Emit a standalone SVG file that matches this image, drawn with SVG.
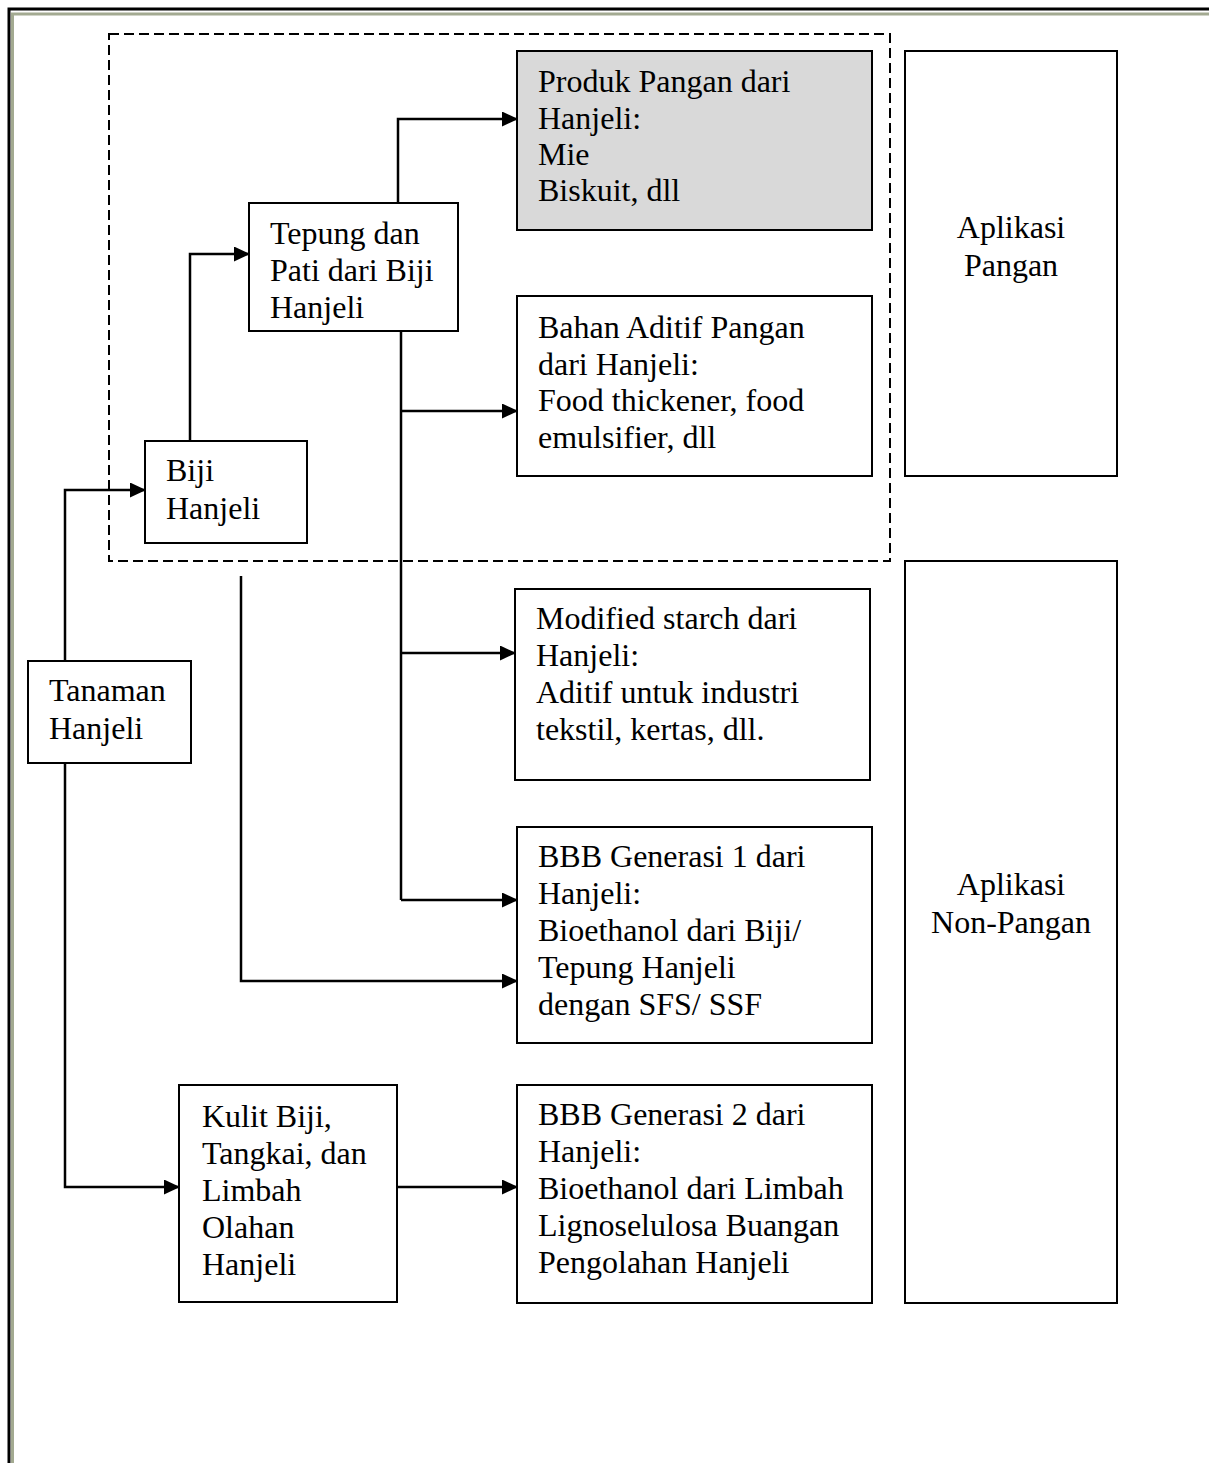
<svg xmlns="http://www.w3.org/2000/svg" width="1209" height="1463" viewBox="0 0 1209 1463">
<defs>
<marker id="ah" viewBox="0 0 16 15" refX="15" refY="7.5" markerWidth="16" markerHeight="15" markerUnits="userSpaceOnUse" orient="auto">
<path d="M0,0 L16,7.5 L0,15 Z" fill="#000"/>
</marker>
<style>
.box{fill:#fff;stroke:#000;stroke-width:2}
.grey{fill:#d9d9d9}
.t{font-family:"Liberation Serif","Times New Roman",serif;font-size:32px;fill:#000}
.c{text-anchor:middle}
.ln{fill:none;stroke:#000;stroke-width:2.5}
.arr{marker-end:url(#ah)}
</style>
</defs>
<rect x="0" y="0" width="1209" height="1463" fill="#fff"/>
<g id="frame">
<path d="M9,1463 V9 H1209" fill="none" stroke="#000" stroke-width="3"/>
<path d="M12.5,1463 V14 H1209" fill="none" stroke="#a3aa91" stroke-width="3"/>
</g>
<g id="group-pangan">
<rect x="109" y="34" width="781" height="527" fill="none" stroke="#000" stroke-width="2" stroke-dasharray="10,5"/>
</g>
<g id="connectors">
<path class="ln arr" d="M65,661 V490 H145"/>
<path class="ln arr" d="M65,763 V1187 H179"/>
<path class="ln arr" d="M190,441 V254 H249"/>
<path class="ln arr" d="M398,203 V119 H517"/>
<path class="ln" d="M401,331 V900"/>
<path class="ln arr" d="M401,411 H517"/>
<path class="ln arr" d="M401,653 H515"/>
<path class="ln arr" d="M401,900 H517"/>
<path class="ln arr" d="M241,576 V981 H517"/>
<path class="ln arr" d="M397,1187 H517"/>
</g>
<g id="node-produk">
<rect class="box grey" x="517" y="51" width="355" height="179"/>
<text class="t" x="538" y="92">Produk Pangan dari</text>
<text class="t" x="538" y="128.5">Hanjeli:</text>
<text class="t" x="538" y="165">Mie</text>
<text class="t" x="538" y="201">Biskuit, dll</text>
</g>
<g id="node-aplikasi-pangan">
<rect class="box" x="905" y="51" width="212" height="425"/>
<text class="t c" x="1011" y="238">Aplikasi</text>
<text class="t c" x="1011" y="276">Pangan</text>
</g>
<g id="node-tepung">
<rect class="box" x="249" y="203" width="209" height="128"/>
<text class="t" x="270" y="244">Tepung dan</text>
<text class="t" x="270" y="281">Pati dari Biji</text>
<text class="t" x="270" y="318">Hanjeli</text>
</g>
<g id="node-aditif">
<rect class="box" x="517" y="296" width="355" height="180"/>
<text class="t" x="538" y="338">Bahan Aditif Pangan</text>
<text class="t" x="538" y="375">dari Hanjeli:</text>
<text class="t" x="538" y="411">Food thickener, food</text>
<text class="t" x="538" y="448">emulsifier, dll</text>
</g>
<g id="node-biji">
<rect class="box" x="145" y="441" width="162" height="102"/>
<text class="t" x="166" y="481">Biji</text>
<text class="t" x="166" y="519">Hanjeli</text>
</g>
<g id="node-tanaman">
<rect class="box" x="28" y="661" width="163" height="102"/>
<text class="t" x="49" y="701">Tanaman</text>
<text class="t" x="49" y="739">Hanjeli</text>
</g>
<g id="node-modified">
<rect class="box" x="515" y="589" width="355" height="191"/>
<text class="t" x="536" y="629">Modified starch dari</text>
<text class="t" x="536" y="666">Hanjeli:</text>
<text class="t" x="536" y="703">Aditif untuk industri</text>
<text class="t" x="536" y="740">tekstil, kertas, dll.</text>
</g>
<g id="node-aplikasi-nonpangan">
<rect class="box" x="905" y="561" width="212" height="742"/>
<text class="t c" x="1011" y="895">Aplikasi</text>
<text class="t c" x="1011" y="933">Non-Pangan</text>
</g>
<g id="node-bbb1">
<rect class="box" x="517" y="827" width="355" height="216"/>
<text class="t" x="538" y="867">BBB Generasi 1 dari</text>
<text class="t" x="538" y="904">Hanjeli:</text>
<text class="t" x="538" y="941">Bioethanol dari Biji/</text>
<text class="t" x="538" y="978">Tepung Hanjeli</text>
<text class="t" x="538" y="1015">dengan SFS/ SSF</text>
</g>
<g id="node-kulit">
<rect class="box" x="179" y="1085" width="218" height="217"/>
<text class="t" x="202" y="1127">Kulit Biji,</text>
<text class="t" x="202" y="1164">Tangkai, dan</text>
<text class="t" x="202" y="1201">Limbah</text>
<text class="t" x="202" y="1238">Olahan</text>
<text class="t" x="202" y="1275">Hanjeli</text>
</g>
<g id="node-bbb2">
<rect class="box" x="517" y="1085" width="355" height="218"/>
<text class="t" x="538" y="1125">BBB Generasi 2 dari</text>
<text class="t" x="538" y="1162">Hanjeli:</text>
<text class="t" x="538" y="1199">Bioethanol dari Limbah</text>
<text class="t" x="538" y="1236">Lignoselulosa Buangan</text>
<text class="t" x="538" y="1273">Pengolahan Hanjeli</text>
</g>
</svg>
